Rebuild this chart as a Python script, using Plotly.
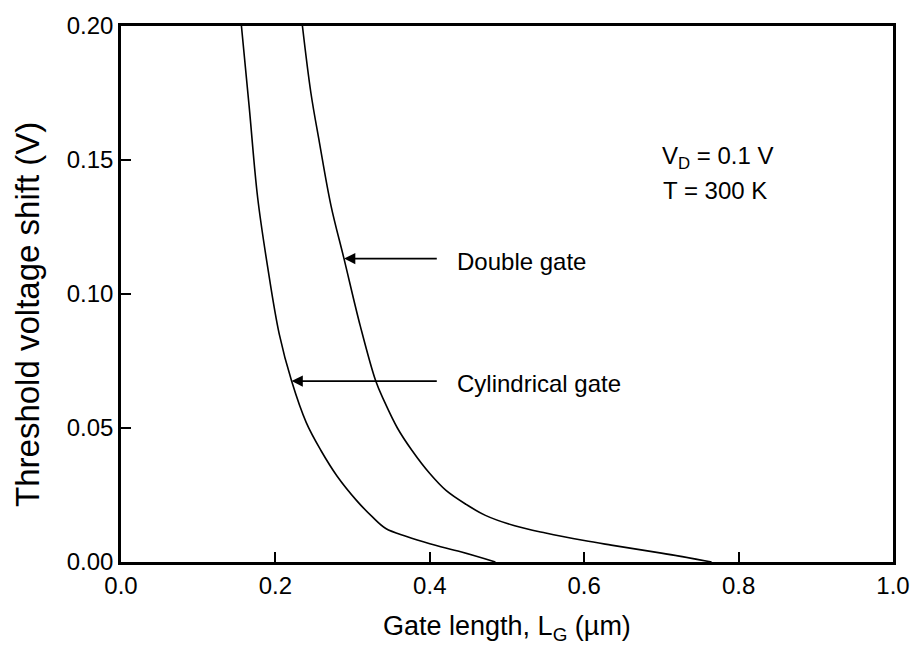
import plotly.graph_objects as go

# Data
cyl_L = [0.156, 0.166, 0.177, 0.190, 0.205, 0.221, 0.240, 0.259, 0.280, 0.305, 0.325, 0.343, 0.370, 0.400, 0.440, 0.485]
cyl_V = [0.200, 0.170, 0.136, 0.110, 0.085, 0.0675, 0.052, 0.0416, 0.032, 0.023, 0.017, 0.0125, 0.0095, 0.0068, 0.0038, 0.000]

dg_L = [0.235, 0.246, 0.257, 0.272, 0.289, 0.310, 0.330, 0.341, 0.358, 0.377, 0.400, 0.421, 0.447, 0.472, 0.510, 0.550, 0.600, 0.635, 0.700, 0.765]
dg_V = [0.200, 0.175, 0.1566, 0.133, 0.113, 0.088, 0.0675, 0.060, 0.050, 0.0416, 0.033, 0.0267, 0.0215, 0.0174, 0.0135, 0.0108, 0.0080, 0.0063, 0.0033, 0.000]

x_ticks = [0.0, 0.2, 0.4, 0.6, 0.8, 1.0]
y_ticks = [0.00, 0.05, 0.10, 0.15, 0.20]

FONT = "Liberation Sans, Arial, sans-serif"

fig = go.Figure()
fig.add_trace(go.Scatter(x=cyl_L, y=cyl_V, mode="lines", line=dict(color="black", width=1.6, shape="spline", smoothing=1.0), name="Cylindrical gate"))
fig.add_trace(go.Scatter(x=dg_L, y=dg_V, mode="lines", line=dict(color="black", width=1.6, shape="spline", smoothing=1.0), name="Double gate"))

axis_common = dict(showgrid=False, zeroline=False, showline=True, linecolor="black", linewidth=2.5,
                   mirror=True, ticks="inside", ticklen=10, tickwidth=2, tickcolor="black",
                   tickfont=dict(family=FONT, size=24, color="black"))

fig.update_xaxes(range=[0, 1.0], tickvals=x_ticks, tickformat=".1f", **axis_common)
fig.update_yaxes(range=[0, 0.20], tickvals=y_ticks, tickformat=".2f", **axis_common)

annotations = [
    dict(x=0.5, y=-0.1225, xref="paper", yref="paper", text="Gate length, L<sub>G</sub> (\u00b5m)",
         showarrow=False, font=dict(family=FONT, size=27, color="black"), xanchor="center", yanchor="middle"),
    dict(x=-0.121, y=0.462, xref="paper", yref="paper", text="Threshold voltage shift (V)", textangle=-90,
         showarrow=False, font=dict(family=FONT, size=33, color="black"), xanchor="center", yanchor="middle"),
    dict(x=0.698, y=0.151, xref="x", yref="y", text="V<sub>D</sub> = 0.1 V", showarrow=False,
         font=dict(family=FONT, size=24, color="black"), xanchor="left", yanchor="middle"),
    dict(x=0.700, y=0.1388, xref="x", yref="y", text="T = 300 K", showarrow=False,
         font=dict(family=FONT, size=24, color="black"), xanchor="left", yanchor="middle"),
    dict(x=0.433, y=0.112, xref="x", yref="y", text="Double gate", showarrow=False,
         font=dict(family=FONT, size=24, color="black"), xanchor="left", yanchor="middle"),
    dict(x=0.433, y=0.0665, xref="x", yref="y", text="Cylindrical gate", showarrow=False,
         font=dict(family=FONT, size=24, color="black"), xanchor="left", yanchor="middle"),
    # arrows
    dict(x=0.289, y=0.1132, ax=0.411, ay=0.1132, xref="x", yref="y", axref="x", ayref="y", text="",
         showarrow=True, arrowhead=2, arrowsize=1.4, arrowwidth=1.6, arrowcolor="black"),
    dict(x=0.221, y=0.0675, ax=0.411, ay=0.0675, xref="x", yref="y", axref="x", ayref="y", text="",
         showarrow=True, arrowhead=2, arrowsize=1.4, arrowwidth=1.6, arrowcolor="black"),
]

fig.update_layout(width=922, height=656, margin=dict(l=121, r=25, t=23, b=94),
                  paper_bgcolor="white", plot_bgcolor="white", showlegend=False,
                  annotations=annotations, font=dict(family=FONT, color="black"))

fig.write_html("out.html")
